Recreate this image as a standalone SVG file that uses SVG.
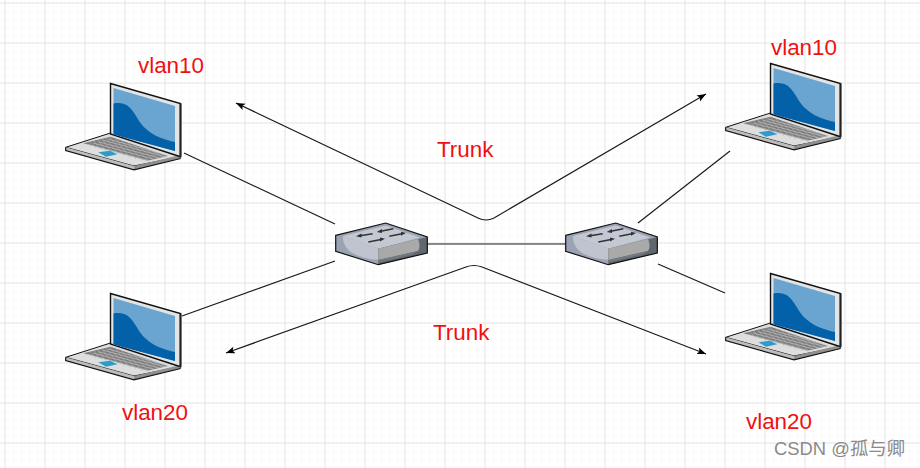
<svg xmlns="http://www.w3.org/2000/svg" width="920" height="468" viewBox="0 0 920 468">
<style>
.lab{font-family:"Liberation Sans",Arial,sans-serif;font-size:22.400px;fill:#f01010}
.c{fill:none;stroke:#1a1a1a;stroke-width:1.200}
.wm{font-family:"Liberation Sans","Noto Sans CJK SC",sans-serif;font-size:18.400px;fill:#8a8a8a}
</style>
<defs>
<pattern id="minor" width="8" height="8" patternUnits="userSpaceOnUse" x="5" y="3"><path d="M0 8V0H8" fill="none" stroke="#f8f8f8" stroke-width="1"/></pattern>
<pattern id="major" width="40" height="40" patternUnits="userSpaceOnUse" x="4.500" y="2.500"><path d="M0.500 40V0.500H40" fill="none" stroke="#e4e4e4" stroke-width="1"/></pattern>
<marker id="ah" markerWidth="10" markerHeight="8" refX="9" refY="3.500" orient="auto-start-reverse" markerUnits="userSpaceOnUse"><path d="M0 0L9 3.500L0 7L2 3.500Z" fill="#000"/></marker>
<g id="laptop">
<path d="M65.700 147.300L110.500 133L180.700 156.700L134 166Z" fill="#dedede" stroke="#111" stroke-width="1"/>
<path d="M65.700 147.300V150.500L134 169.500V166Z" fill="#bdbdbd"/>
<path d="M134 169.500L180.700 158.500V155L134 166Z" fill="#8f8f8f"/>
<path d="M65.700 147.300V150.500L134 169.800L180.700 158.500" fill="none" stroke="#111" stroke-width="1.200"/>
<path d="M83.300 143.300L110.500 136.700L168 156L147.300 160.700Z" fill="#7d7d7d"/>
<path d="M88 144.500L150 161M93 143L155 159.500M98 141.700L160 158.200M103 140.200L165 156.700M108 139L168 155.500" stroke="#cfcfcf" stroke-width="0.600" fill="none"/>
<path d="M90 142L96 148M94 141L100 149M98 140L106 151M102 139L112 152.500M106 138L118 154M110 137L124 156M116 139L130 158M122 141L136 159.500M128 143L142 161M134 145L148 160.500M140 147L153 159.500M146 149L158 158.500M152 151L163 157.500" stroke="#b8b8b8" stroke-width="0.500" fill="none"/>
<path d="M98.300 152.300L110 150.700L117.300 154.300L106 156.700Z" fill="#2d9ccd"/>
<path d="M110.500 83.500L180.500 103.500V156.700L110.500 134Z" fill="#e4e4e4" stroke="#111" stroke-width="1.400"/>
<path d="M113.500 88L175 106V151L113.500 134.500Z" fill="#69a5d0"/>
<path d="M113.500 103.500C133 100 134 118 145 128C153 136 165 140 175 142V151L113.500 134.500Z" fill="#0261a8"/>
<path d="M180.500 103.500V156.700" stroke="#222" stroke-width="2"/>
</g>
<g id="switch">
<path d="M335.700 235.300L385.700 223L427.300 237V253L378.300 264.700L335.700 251.300Z" fill="#9aa3b3"/>
<path d="M343 236L385.700 225.500L420 237.500L378.300 248.700Z" fill="#c4c8d3"/>
<path d="M343 236L378.300 248.700V259.700C360 259 342 252 343 236Z" fill="#c0c4cf"/>
<path d="M378.300 248.700L427.300 237V253L378.300 264.700Z" fill="#60676f"/>
<path d="M378.300 248.700L418 239C420 244 420 248 418 251L378.300 260Z" fill="#a9a9a9"/>
<path d="M378.300 260L418 251L412 254.500L378.300 262.500Z" fill="#757a80"/>
<path d="M335.700 235.300L385.700 223L427.300 237V253L378.300 264.700L335.700 251.300Z" fill="none" stroke="#111" stroke-width="1.200"/>
<path d="M360 235.700L372.700 233.700M380.700 231.300L393.300 228.700M368.300 242L381 239.500M389.300 236.300L402 233.800" stroke="#333" stroke-width="1.600" fill="none"/>
<path d="M356 236.300L361.500 233.500V237.500ZM376.700 232L382 229V233ZM385 238.700L380 237.500V241.500ZM406 233L401 231.800V235.800Z" fill="#333"/>
</g>
</defs>
<rect width="920" height="468" fill="#fff"/>
<rect width="920" height="468" fill="url(#minor)"/>
<rect width="920" height="468" fill="url(#major)"/>
<g id="connectors">
<path class="c" d="M184 153L335 224"/>
<path class="c" d="M182 316L335 261"/>
<path class="c" d="M428 244H566"/>
<path class="c" d="M638 223L730 151"/>
<path class="c" d="M658 264L725 293"/>
<path class="c" d="M236 103L478 218Q486 222 494 218L706 94" marker-start="url(#ah)" marker-end="url(#ah)"/>
<path class="c" d="M226 353L466 267Q474 264 482 267L706 354" marker-start="url(#ah)" marker-end="url(#ah)"/>
</g>
<g id="laptop-tl"><use href="#laptop"/></g>
<g id="laptop-tr"><use href="#laptop" x="660" y="-20"/></g>
<g id="laptop-bl"><use href="#laptop" y="210"/></g>
<g id="laptop-br"><use href="#laptop" x="660" y="190"/></g>
<g id="switch-1"><use href="#switch"/></g>
<g id="switch-2"><use href="#switch" x="230"/></g>
<g id="labels">
<text class="lab" x="138" y="73">vlan10</text>
<text class="lab" x="771" y="55">vlan10</text>
<text class="lab" x="122" y="420">vlan20</text>
<text class="lab" x="746" y="429">vlan20</text>
<text class="lab" x="437" y="157">Trunk</text>
<text class="lab" x="433" y="340">Trunk</text>
<text class="wm" x="774" y="455">CSDN @孤与卿</text>
</g>
</svg>
